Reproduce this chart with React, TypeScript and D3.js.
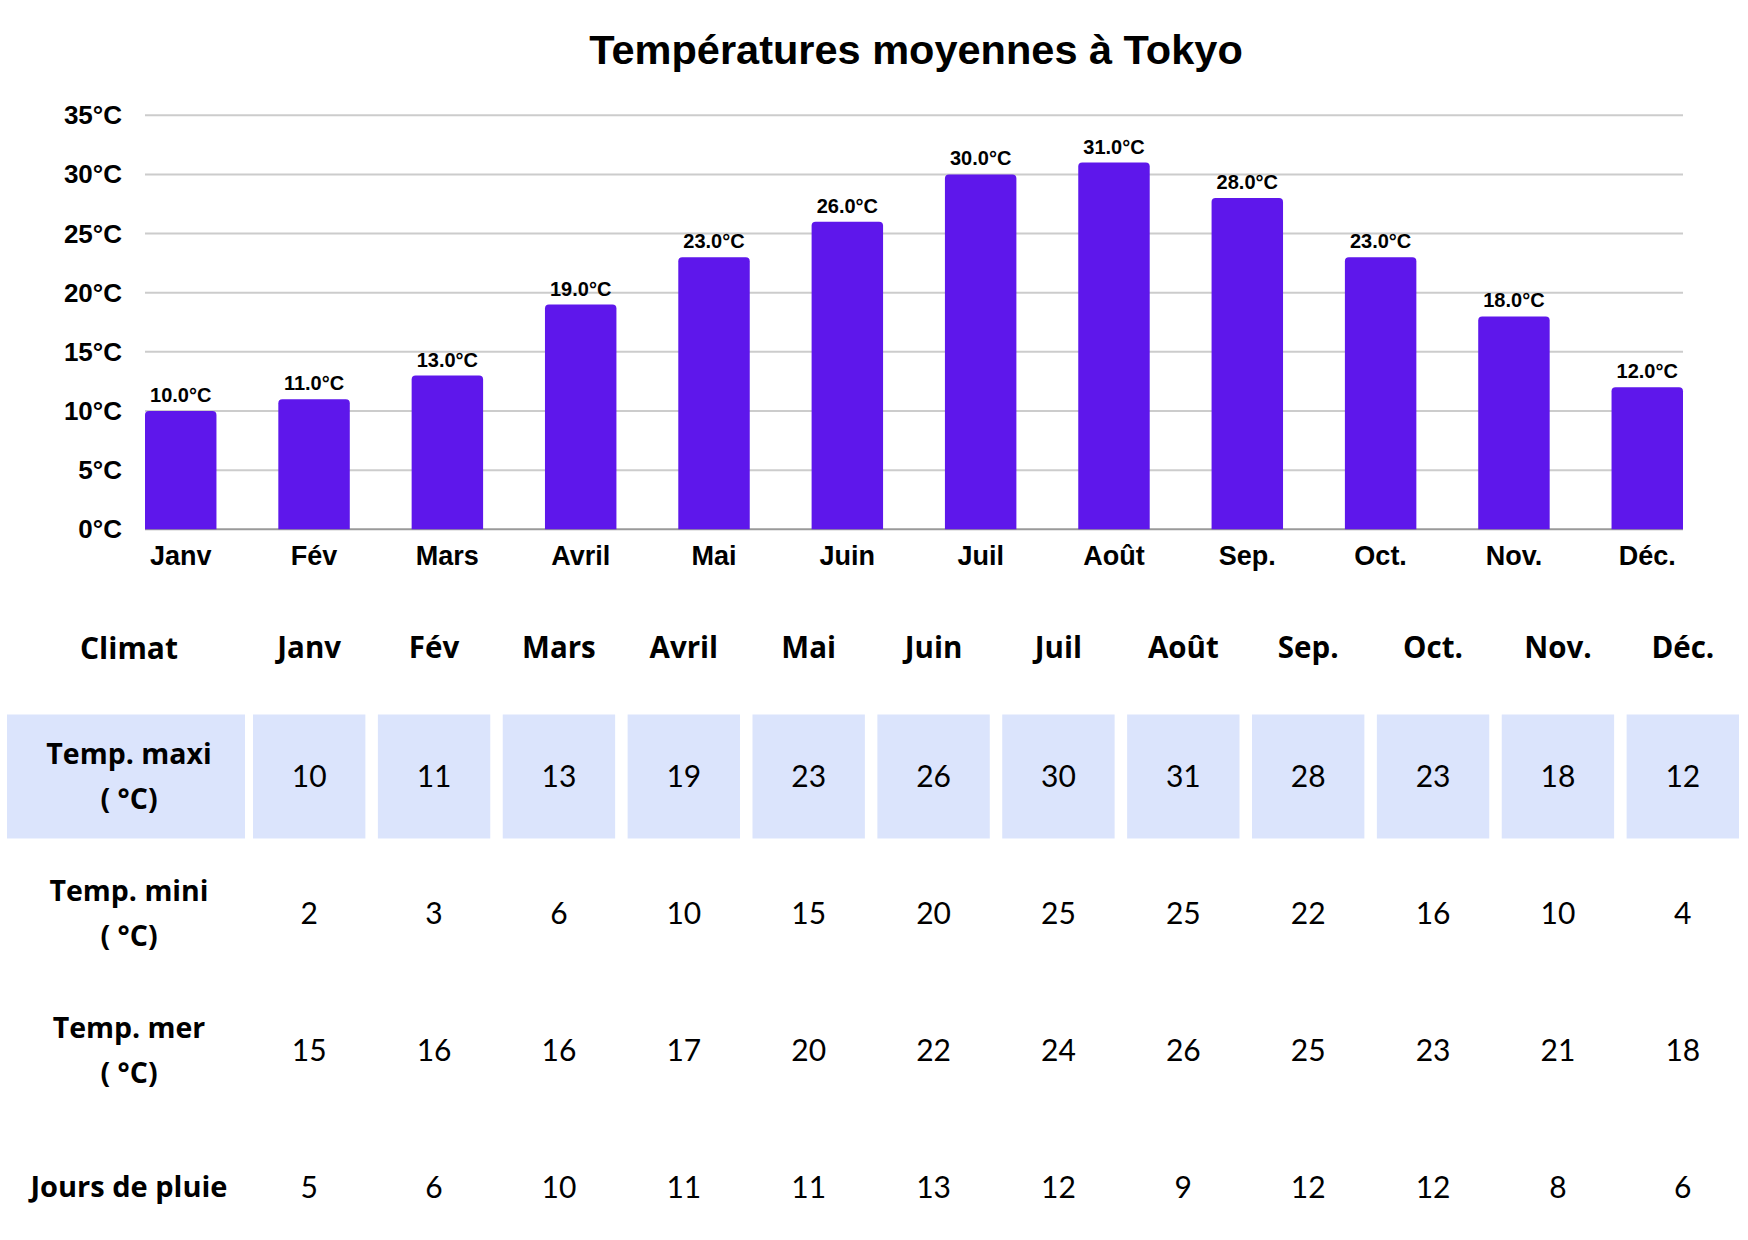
import React from 'react';
import * as d3 from 'd3';

// ---- Data ----
const months = ['Janv', 'Fév', 'Mars', 'Avril', 'Mai', 'Juin', 'Juil', 'Août', 'Sep.', 'Oct.', 'Nov.', 'Déc.'];
const tempMax = [10, 11, 13, 19, 23, 26, 30, 31, 28, 23, 18, 12];
const tempMin = [2, 3, 6, 10, 15, 20, 25, 25, 22, 16, 10, 4];
const tempSea = [15, 16, 16, 17, 20, 22, 24, 26, 25, 23, 21, 18];
const rainDays = [5, 6, 10, 11, 11, 13, 12, 9, 12, 12, 8, 6];
const yTicks = [0, 5, 10, 15, 20, 25, 30, 35];
const chartTitle = 'Températures moyennes à Tokyo';
const tableHeader = 'Climat';
const rowLabels = [['Temp. maxi', '( °C)'], ['Temp. mini', '( °C)'], ['Temp. mer', '( °C)'], ['Jours de pluie']];
const rowValues = [tempMax, tempMin, tempSea, rainDays];

// ---- Layout / style ----
const W = 1748;
const H = 1240;
const chartFont = '"Liberation Sans", Arial, Helvetica, sans-serif';
const tableBoldFont = '"Open Sans", Lato, sans-serif';
const tableFont = 'Lato, "Open Sans", sans-serif';
const barColor = '#5e17eb';
const cellColor = '#dbe4fc';

function topRoundedBar(x0: number, y0: number, w: number, h: number, r: number) {
  const rr = Math.min(r, h / 2, w / 2);
  return `M${x0},${y0 + h}V${y0 + rr}Q${x0},${y0} ${x0 + rr},${y0}H${x0 + w - rr}Q${x0 + w},${y0} ${x0 + w},${y0 + rr}V${y0 + h}Z`;
}

export default function App() {
  const x = d3.scaleBand<string>().domain(months).range([145, 1683]).paddingInner(0.464).paddingOuter(0);
  const y = d3.scaleLinear().domain([0, 35]).range([529.3, 115.3]);
  const colX = d3.scaleBand<string>().domain(months).range([253, 1739]).paddingInner(0.1).paddingOuter(0);
  const rowY = d3.scaleBand<number>().domain(d3.range(rowValues.length)).range([714.5, 1248.9]).paddingInner(0.0936);

  const labelCellX0 = 7;
  const labelCellX1 = 245;
  const labelCx = 129;
  const headerY = 648;

  return (
    <div style={{ position: 'absolute', left: 0, top: 0 }}>
      <svg width={W} height={H} style={{ display: 'block', background: '#ffffff' }}>
        {/* Title */}
        <text x={916} y={63.5} textAnchor="middle" fontFamily={chartFont} fontWeight="bold" fontSize={41.5} fill="#000">
          {chartTitle}
        </text>

        {/* Gridlines */}
        {yTicks.map((t) => (
          <line
            key={'g' + t}
            x1={145}
            x2={1683}
            y1={y(t)}
            y2={y(t)}
            stroke={t === 0 ? '#9a9a9a' : '#cccccc'}
            strokeWidth={2}
          />
        ))}

        {/* Y tick labels */}
        {yTicks.map((t) => (
          <text
            key={'yt' + t}
            x={122}
            y={y(t) + 9}
            textAnchor="end"
            fontFamily={chartFont}
            fontWeight="bold"
            fontSize={26}
            fill="#000"
          >
            {t}°C
          </text>
        ))}

        {/* Bars */}
        {months.map((m, i) => {
          const x0 = x(m)!;
          const w = x.bandwidth();
          const y0 = y(tempMax[i]);
          const h = y(0) - y0;
          return <path key={'b' + m} d={topRoundedBar(x0, y0, w, h, 4)} fill={barColor} />;
        })}

        {/* Bar value labels */}
        {months.map((m, i) => (
          <text
            key={'bl' + m}
            x={x(m)! + x.bandwidth() / 2}
            y={y(tempMax[i]) - 9}
            textAnchor="middle"
            fontFamily={chartFont}
            fontWeight="bold"
            fontSize={20}
            fill="#000"
          >
            {d3.format('.1f')(tempMax[i])}°C
          </text>
        ))}

        {/* X labels */}
        {months.map((m) => (
          <text
            key={'xl' + m}
            x={x(m)! + x.bandwidth() / 2}
            y={565}
            textAnchor="middle"
            fontFamily={chartFont}
            fontWeight="bold"
            fontSize={27}
            fill="#000"
          >
            {m}
          </text>
        ))}

        {/* Table header */}
        <text x={labelCx} y={headerY + 11} textAnchor="middle" fontFamily={tableBoldFont} fontWeight="bold" fontSize={30} fill="#000">
          {tableHeader}
        </text>
        {months.map((m) => (
          <text
            key={'th' + m}
            x={colX(m)! + colX.bandwidth() / 2}
            y={headerY + 10}
            textAnchor="middle"
            fontFamily={tableBoldFont}
            fontWeight="bold"
            fontSize={29.5}
            fill="#000"
          >
            {m}
          </text>
        ))}

        {/* Table rows */}
        {rowValues.map((vals, r) => {
          const ry = rowY(r)!;
          const rh = rowY.bandwidth();
          const cy = ry + rh / 2;
          const shaded = r === 0;
          const lines = rowLabels[r];
          return (
            <g key={'row' + r}>
              {shaded && (
                <rect x={labelCellX0} y={ry} width={labelCellX1 - labelCellX0} height={rh} fill={cellColor} />
              )}
              {shaded &&
                months.map((m) => (
                  <rect key={'c' + m} x={colX(m)!} y={ry} width={colX.bandwidth()} height={rh} fill={cellColor} />
                ))}
              {lines.length === 2 ? (
                <>
                  <text x={labelCx} y={cy - 12} textAnchor="middle" fontFamily={tableBoldFont} fontWeight="bold" fontSize={28.5} fill="#000">
                    {lines[0]}
                  </text>
                  <text x={labelCx} y={cy + 33} textAnchor="middle" fontFamily={tableBoldFont} fontWeight="bold" fontSize={28.5} fill="#000">
                    {lines[1]}
                  </text>
                </>
              ) : (
                <text x={labelCx} y={cy + 10} textAnchor="middle" fontFamily={tableBoldFont} fontWeight="bold" fontSize={29} fill="#000">
                  {lines[0]}
                </text>
              )}
              {months.map((m, i) => (
                <text
                  key={'v' + m}
                  x={colX(m)! + colX.bandwidth() / 2}
                  y={cy + 11}
                  textAnchor="middle"
                  fontFamily={tableFont}
                  fontWeight="normal"
                  fontSize={30}
                  fill="#000"
                >
                  {vals[i]}
                </text>
              ))}
            </g>
          );
        })}
      </svg>
    </div>
  );
}
